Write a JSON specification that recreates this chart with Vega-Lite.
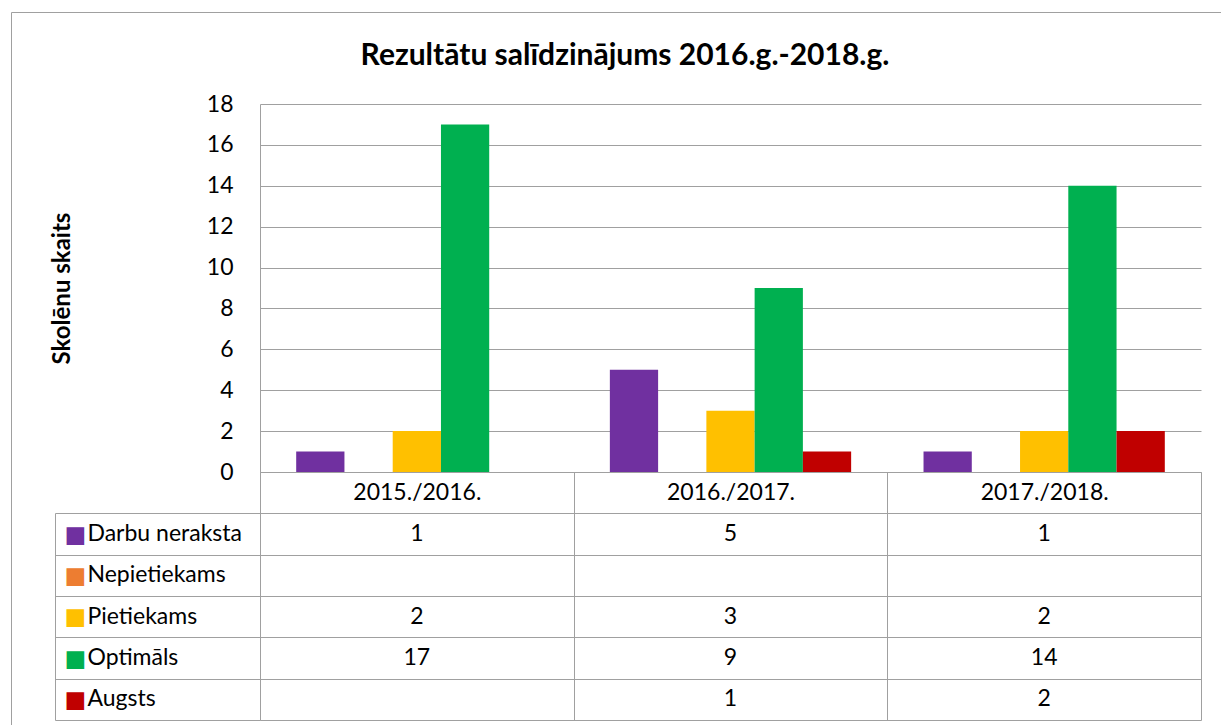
{
  "$schema": "https://vega.github.io/schema/vega-lite/v6.json",
  "width": 1210,
  "height": 713,
  "autosize": {"type": "none"},
  "padding": {"left": 11, "top": 12, "right": 0, "bottom": 0},
  "background": "white",
  "title": {"text": "Rezultātu salīdzinājums 2016.g.-2018.g.", "fontSize": 30, "fontWeight": "bold", "font": "Lato", "anchor": "middle", "frame": "group", "offset": -85, "baseline": "middle", "dx": 9, "color": "#000000"},
  "config": {"font": "Lato", "view": {"stroke": "#A0A0A0", "strokeWidth": 1}},
  "data": {"values": [
    {"period": "2015./2016.", "series": "Darbu neraksta", "value": 1},
    {"period": "2015./2016.", "series": "Nepietiekams", "value": null},
    {"period": "2015./2016.", "series": "Pietiekams", "value": 2},
    {"period": "2015./2016.", "series": "Optimāls", "value": 17},
    {"period": "2015./2016.", "series": "Augsts", "value": null},
    {"period": "2016./2017.", "series": "Darbu neraksta", "value": 5},
    {"period": "2016./2017.", "series": "Nepietiekams", "value": null},
    {"period": "2016./2017.", "series": "Pietiekams", "value": 3},
    {"period": "2016./2017.", "series": "Optimāls", "value": 9},
    {"period": "2016./2017.", "series": "Augsts", "value": 1},
    {"period": "2017./2018.", "series": "Darbu neraksta", "value": 1},
    {"period": "2017./2018.", "series": "Nepietiekams", "value": null},
    {"period": "2017./2018.", "series": "Pietiekams", "value": 2},
    {"period": "2017./2018.", "series": "Optimāls", "value": 14},
    {"period": "2017./2018.", "series": "Augsts", "value": 2}
  ]},
  "resolve": {"scale": {"y": "independent"}, "axis": {"y": "independent"}},
  "layer": [
    {
      "resolve": {"axis": {"y": "independent"}},
      "layer": [
        {
          "transform": [{"filter": "isValid(datum.value)"}],
          "mark": {"type": "text", "fontSize": 23, "baseline": "middle", "align": "center", "color": "#000000"},
          "encoding": {
            "x": {"field": "period", "type": "nominal", "sort": null, "scale": {"domain": ["2015./2016.", "2016./2017.", "2017./2018."], "range": [249, 1190], "paddingInner": 0, "paddingOuter": 0},
              "axis": {"orient": "top", "offset": -460, "tickBand": "extent", "ticks": false, "domain": true, "domainColor": "#A0A0A0", "grid": true, "gridColor": "#A0A0A0", "labels": true, "labelFontSize": 23, "labelPadding": -20, "labelBaseline": "middle", "labelAngle": 0, "labelColor": "#000000", "labelExpr": "indexof(['2015./2016.', '2016./2017.', '2017./2018.'], datum.value) >= 0 ? datum.value : ''", "title": null}},
            "y": {"field": "series", "type": "nominal", "sort": null, "scale": {"domain": [" ", "Darbu neraksta", "Nepietiekams", "Pietiekams", "Optimāls", "Augsts"], "range": [460, 708], "paddingInner": 0, "paddingOuter": 0},
              "axis": {"orient": "left", "offset": -249, "values": ["Darbu neraksta", "Nepietiekams", "Pietiekams", "Optimāls", "Augsts"], "tickBand": "extent", "ticks": true, "tickSize": 205, "tickColor": "#A0A0A0", "grid": true, "gridColor": "#A0A0A0", "domain": true, "domainColor": "#A0A0A0", "labelExpr": "indexof(['Darbu neraksta', 'Nepietiekams', 'Pietiekams', 'Optimāls', 'Augsts'], datum.value) >= 0 ? '■' : ''", "labelFont": "DejaVu Sans", "labelAlign": "left", "labelBaseline": "middle", "labelPadding": -9, "labelFontSize": 23,
                "labelColor": {"expr": "datum.value === 'Darbu neraksta' ? '#7030A0' : datum.value === 'Nepietiekams' ? '#ED7D31' : datum.value === 'Pietiekams' ? '#FFC000' : datum.value === 'Optimāls' ? '#00B050' : '#C00000'"}, "title": null}},
            "text": {"field": "value", "type": "quantitative"}
          }
        },
        {
          "mark": {"type": "point", "opacity": 0},
          "encoding": {
            "y": {"field": "series", "type": "nominal", "sort": null,
              "axis": {"orient": "left", "offset": -249, "values": ["Darbu neraksta", "Nepietiekams", "Pietiekams", "Optimāls", "Augsts"], "ticks": false, "grid": false, "domain": false, "labelAlign": "left", "labelPadding": 173, "labelFontSize": 23, "labelBaseline": "middle", "labelLimit": 300, "labelColor": "#000000", "title": null}}
          }
        }
      ]
    },
    {
      "mark": {"type": "point", "opacity": 0},
      "encoding": {
        "y": {"field": "series", "type": "nominal", "sort": null, "scale": {"domain": ["Darbu neraksta", "Nepietiekams", "Pietiekams", "Optimāls", "Augsts"], "range": [501, 708], "paddingInner": 0, "paddingOuter": 0},
          "axis": {"orient": "left", "offset": -44, "ticks": false, "grid": false, "labels": false, "domain": true, "domainColor": "#A0A0A0", "title": null}}
      }
    },
    {
      "transform": [{"filter": "isValid(datum.value)"}],
      "mark": {"type": "bar"},
      "encoding": {
        "x": {"field": "period", "type": "nominal", "sort": null, "scale": {"domain": ["2015./2016.", "2016./2017.", "2017./2018."], "range": [249, 1190], "paddingInner": 0, "paddingOuter": 0}},
        "xOffset": {"field": "series", "type": "nominal", "sort": null, "scale": {"domain": ["Darbu neraksta", "Nepietiekams", "Pietiekams", "Optimāls", "Augsts"], "paddingInner": 0, "paddingOuter": 0.75}},
        "y": {"field": "value", "type": "quantitative", "scale": {"domain": [0, 18], "range": [460, 92], "nice": false, "zero": true},
          "axis": {"orient": "left", "offset": -249, "values": [0, 2, 4, 6, 8, 10, 12, 14, 16, 18], "grid": true, "gridColor": "#A0A0A0", "ticks": false, "domain": true, "domainColor": "#A0A0A0", "labelFontSize": 23, "labelPadding": 27, "labelColor": "#000000", "title": "Skolēnu skaits", "titleFontSize": 24, "titleFontWeight": "bold", "titleColor": "#000000", "titleX": -198, "titleBaseline": "middle"}},
        "color": {"field": "series", "type": "nominal", "scale": {"domain": ["Darbu neraksta", "Nepietiekams", "Pietiekams", "Optimāls", "Augsts"], "range": ["#7030A0", "#ED7D31", "#FFC000", "#00B050", "#C00000"]}, "legend": null}
      }
    }
  ]
}
